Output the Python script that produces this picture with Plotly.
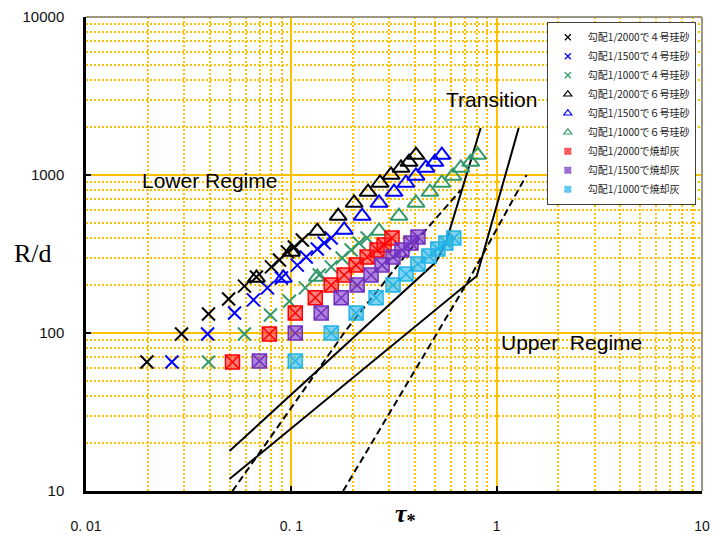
import plotly.graph_objects as go

# ---------------- data ----------------
series_names = [
    "勾配1/2000で４号珪砂", "勾配1/1500で４号珪砂", "勾配1/1000で４号珪砂",
    "勾配1/2000で６号珪砂", "勾配1/1500で６号珪砂", "勾配1/1000で６号珪砂",
    "勾配1/2000で焼却灰", "勾配1/1500で焼却灰", "勾配1/1000で焼却灰",
]

tau_sand4_2000 = [0.0198, 0.0292, 0.0395, 0.0495, 0.0591, 0.0676, 0.0800, 0.0875, 0.0956, 0.1034, 0.1131]
rd_sand4_2000 = [65.5, 98.6, 132, 164, 198, 226, 262, 290, 326, 350, 388]

tau_sand4_1500 = [0.0262, 0.0391, 0.0529, 0.0654, 0.0765, 0.0895, 0.1069, 0.1182, 0.1338, 0.1446, 0.1564]
rd_sand4_1500 = [65.5, 98.6, 134, 162, 193, 223, 269, 303, 340, 371, 399]

tau_sand4_1000 = [0.0395, 0.0591, 0.0791, 0.0978, 0.1169, 0.1368, 0.1564, 0.1768, 0.1956, 0.2138, 0.2339]
rd_sand4_1000 = [65.5, 98.6, 130, 159, 193, 233, 262, 298, 335, 371, 399]

tau_sand6_2000 = [0.0676, 0.100, 0.1338, 0.1691, 0.2022, 0.2365, 0.2704, 0.3059, 0.342, 0.3741, 0.4046]
rd_sand6_2000 = [223, 326, 442, 550, 665, 780, 890, 1000, 1108, 1208, 1338]

tau_sand6_1500 = [0.0914, 0.1809, 0.2212, 0.2675, 0.3162, 0.3617, 0.4046, 0.4522, 0.500, 0.5408]
rd_sand6_1500 = [223, 449, 550, 665, 780, 890, 986, 1108, 1208, 1338]

tau_sand6_1000 = [0.1338, 0.2675, 0.3344, 0.4046, 0.4730, 0.5408, 0.6115, 0.6687, 0.7477, 0.8087]
rd_sand6_1000 = [226, 442, 550, 665, 780, 890, 986, 1108, 1208, 1338]

tau_ash_2000 = [0.0517, 0.0782, 0.1045, 0.1308, 0.1564, 0.1809, 0.2068, 0.2339, 0.2615, 0.2829, 0.3093]
rd_ash_2000 = [65.5, 98.6, 134, 167, 201, 233, 269, 303, 335, 361, 399]

tau_ash_1500 = [0.0699, 0.1045, 0.1398, 0.1749, 0.2091, 0.2445, 0.2766, 0.3128, 0.3458, 0.3825, 0.4136]
rd_ash_1500 = [66.5, 99.9, 134, 167, 201, 233, 269, 303, 335, 371, 405]

tau_ash_1000 = [0.1045, 0.1564, 0.2068, 0.2586, 0.3128, 0.3617, 0.4136, 0.4677, 0.5171, 0.5655, 0.6183]
rd_ash_1000 = [66.5, 99.9, 134, 167, 201, 236, 273, 307, 340, 371, 399]

# regime boundary curves
upper_solid_tau = [0.05, 0.506, 0.565, 0.618, 0.676, 0.748, 0.836]
upper_solid_rd = [17.9, 281, 371, 542, 804, 1244, 1984]
lower_solid_tau = [0.05, 0.80, 1.28]
lower_solid_rd = [11.9, 229.5, 1984]
dash1_tau = [0.0517, 0.185, 0.452, 0.669]
dash1_rd = [10, 104.5, 449, 804]
dash2_tau = [0.1788, 0.731, 1.398]
dash2_rd = [10, 216.5, 1000]

x_tickvals = [0.01, 0.1, 1, 10]
x_ticktext = ["0. 01", "0. 1", "1", "10"]
y_tickvals = [10, 100, 1000, 10000]
y_ticktext = ["10", "100", "1000", "10000"]

# ---------------- styles ----------------
BLACK, BLUE, GREEN = "#000000", "#0000FF", "#33996A"
RED, PURPLE, CYAN = "#FF0000", "#7030C0", "#20B4E8"
FILLS = {RED: "rgba(255,40,40,0.6)", PURPLE: "rgba(120,50,200,0.6)", CYAN: "rgba(40,180,232,0.6)"}
GOLD = "#FFC000"

xs = [tau_sand4_2000, tau_sand4_1500, tau_sand4_1000,
      tau_sand6_2000, tau_sand6_1500, tau_sand6_1000,
      tau_ash_2000, tau_ash_1500, tau_ash_1000]
ys = [rd_sand4_2000, rd_sand4_1500, rd_sand4_1000,
      rd_sand6_2000, rd_sand6_1500, rd_sand6_1000,
      rd_ash_2000, rd_ash_1500, rd_ash_1000]
colors = [BLACK, BLUE, GREEN, BLACK, BLUE, GREEN, RED, PURPLE, CYAN]
kinds = ["x", "x", "x", "tri", "tri", "tri", "sq", "sq", "sq"]


def marker_style(kind, color, big=True):
    if kind == "x":
        return dict(symbol="x-thin", size=13 if big else 6,
                    line=dict(color=color, width=2 if big else 1.2), color=color)
    if kind == "tri":
        return dict(symbol="triangle-up-open", size=15 if big else 7,
                    line=dict(color=color, width=2 if big else 1.2), color=color)
    return dict(symbol="square-x", size=14 if big else 6,
                color=FILLS[color],
                line=dict(color=color, width=1.5 if big else 0.6))


fig = go.Figure()

# boundary lines
fig.add_trace(go.Scatter(x=upper_solid_tau, y=upper_solid_rd, mode="lines",
                         line=dict(color="black", width=2), showlegend=False, hoverinfo="skip"))
fig.add_trace(go.Scatter(x=lower_solid_tau, y=lower_solid_rd, mode="lines",
                         line=dict(color="black", width=2), showlegend=False, hoverinfo="skip"))
fig.add_trace(go.Scatter(x=dash1_tau, y=dash1_rd, mode="lines",
                         line=dict(color="black", width=2, dash="7px,4px"), showlegend=False, hoverinfo="skip"))
fig.add_trace(go.Scatter(x=dash2_tau, y=dash2_rd, mode="lines",
                         line=dict(color="black", width=2, dash="7px,4px"), showlegend=False, hoverinfo="skip"))

# data series (big markers, no legend)
for xv, yv, c, k in zip(xs, ys, colors, kinds):
    fig.add_trace(go.Scatter(x=xv, y=yv, mode="markers", marker=marker_style(k, c),
                             showlegend=False))

# legend-only entries with small glyphs
for name, c, k in zip(series_names, colors, kinds):
    fig.add_trace(go.Scatter(x=[None], y=[None], mode="markers", name=name,
                             marker=marker_style(k, c, big=False)))

axis_common = dict(
    type="log", showgrid=True, gridcolor=GOLD, gridwidth=2, automargin=False,
    zeroline=False, ticks="inside", ticklen=5, tickwidth=2, tickcolor="black",
    tickfont=dict(family="Liberation Sans, Arial", size=15, color="#111111"),
    minor=dict(dtick="D1", showgrid=True, gridcolor=GOLD, gridwidth=2,
               griddash="2px,2px", ticks=""),
    showline=True, linecolor="black", mirror=False,
)

fig.update_xaxes(axis_common, range=[-2, 1], tickmode="array",
                 tickvals=x_tickvals, ticktext=x_ticktext, linewidth=3,
                 ticklabelstandoff=20, tickfont=dict(size=14))
fig.update_yaxes(axis_common, range=[1, 4], tickmode="array",
                 tickvals=y_tickvals, ticktext=y_ticktext, linewidth=2.5,
                 ticklabelstandoff=16)

fig.update_layout(
    width=713, height=535,
    margin=dict(l=86, r=11, t=17, b=44, autoexpand=False),
    plot_bgcolor="white", paper_bgcolor="white",
    font=dict(family="Liberation Sans, Arial", color="black"),
    legend=dict(x=0.99, xanchor="right", y=0.99, yanchor="top",
                bgcolor="white", bordercolor="#404040", borderwidth=1,
                font=dict(family="Noto Sans CJK JP", size=10, color="#222222"),
                itemwidth=30, tracegroupgap=0),
    shapes=[
        dict(type="line", xref="paper", yref="paper", x0=0, x1=1, y0=1, y1=1,
             line=dict(color="#9A9680", width=2)),
        dict(type="line", xref="paper", yref="paper", x0=1, x1=1, y0=0, y1=1,
             line=dict(color="#9A9680", width=2)),
    ],
    annotations=[
        dict(text="Lower Regime", x=-1.738, y=2.968, xref="x", yref="y",
             xanchor="left", yanchor="middle", showarrow=False,
             font=dict(size=21, family="Liberation Sans, Arial")),
        dict(text="Transition", x=-0.257, y=3.475, xref="x", yref="y",
             xanchor="left", yanchor="middle", showarrow=False,
             font=dict(size=21, family="Liberation Sans, Arial")),
        dict(text="Upper  Regime", x=0.0097, y=1.943, xref="x", yref="y",
             xanchor="left", yanchor="middle", showarrow=False,
             font=dict(size=21, family="Liberation Sans, Arial")),
        dict(text="R/d", x=-0.086, y=0.502, xref="paper", yref="paper",
             xanchor="center", yanchor="middle", showarrow=False,
             font=dict(size=26, family="Liberation Serif")),
        dict(text="<b><i>τ</i><sub>*</sub></b>", x=0.518, y=-0.088, xref="paper", yref="paper",
             xanchor="center", yanchor="bottom", showarrow=False,
             font=dict(size=26, family="Liberation Serif")),
    ],
)

fig.write_html("out.html")
